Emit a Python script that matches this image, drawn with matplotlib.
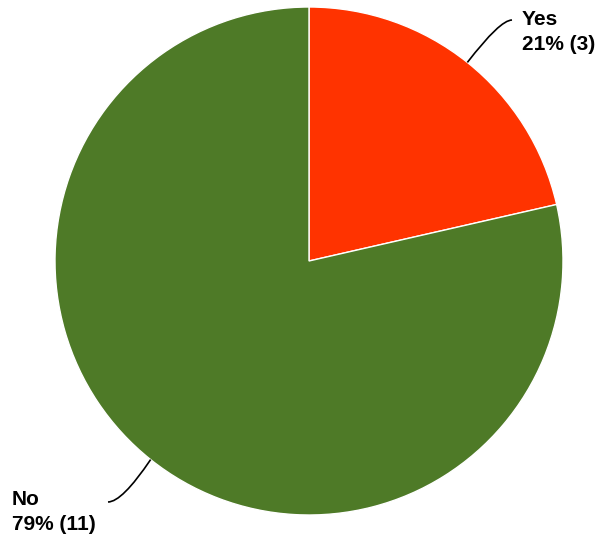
import matplotlib
matplotlib.use("Agg")
import matplotlib.pyplot as plt
from matplotlib.path import Path
from matplotlib.patches import PathPatch
import numpy as np

labels = ["Yes", "No"]
counts = [3, 11]
colors = ["#FF3300", "#4E7A27"]

W, H = 600, 542
fig = plt.figure(figsize=(W/100, H/100), dpi=100)
ax = fig.add_axes([0, 0, 1, 1])

cx, cy, r = 309, H - 261, 254
wedges, _ = ax.pie(counts, colors=colors, startangle=90, counterclock=False,
                   center=(cx, cy), radius=r, frame=True,
                   wedgeprops=dict(edgecolor="white", linewidth=1))
ax.set_xlim(0, W)
ax.set_ylim(0, H)
ax.set_aspect("equal")
ax.axis("off")

total = sum(counts)
font = dict(family=["Liberation Sans", "DejaVu Sans"], fontsize=15, fontweight="bold", color="black")

# (text x, baseline line1, baseline line2 in px-from-top, leader end, ctrl)
specs = [
    dict(tx=522, b1=25, b2=50, end=(512, 20), ctrl=(500, 20)),
    dict(tx=12, b1=505, b2=530, end=(108, 502), ctrl=(122, 502)),
]
for w, lab, c, s in zip(wedges, labels, counts, specs):
    mid = np.deg2rad((w.theta1 + w.theta2) / 2)
    ex, ey = cx + r*np.cos(mid), cy + r*np.sin(mid)
    endx, endy = s["end"][0], H - s["end"][1]
    ctlx, ctly = s["ctrl"][0], H - s["ctrl"][1]
    p = Path([(ex, ey), (ctlx, ctly), (endx, endy)], [Path.MOVETO, Path.CURVE3, Path.CURVE3])
    ax.add_patch(PathPatch(p, fill=False, edgecolor="black", linewidth=1.2))
    pct = round(100*c/total)
    ax.text(s["tx"], H - s["b1"], lab, ha="left", va="baseline", **font)
    ax.text(s["tx"], H - s["b2"], f"{pct}% ({c})", ha="left", va="baseline", **font)

fig.savefig("out.png", dpi=100)
